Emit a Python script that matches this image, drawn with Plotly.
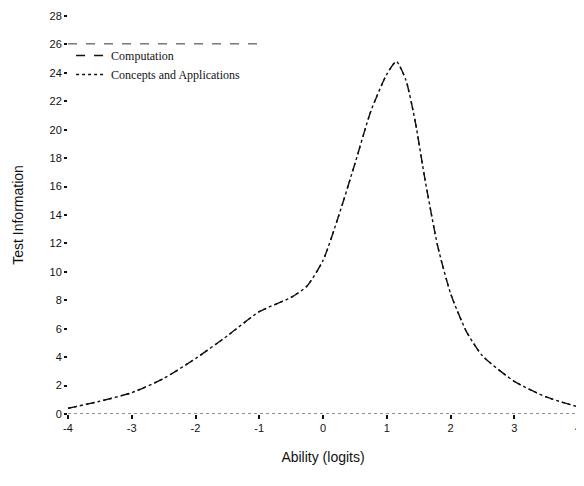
import plotly.graph_objects as go

ability = [-4, -3.5, -3, -2.5, -2, -1.5, -1, -0.5, -0.25, 0, 0.25, 0.5, 0.75, 1.0, 1.15,
           1.3, 1.45, 1.6, 1.8, 2.0, 2.25, 2.5, 3.0, 3.5, 4.0]
computation = [0.4, 0.9, 1.5, 2.5, 3.9, 5.5, 7.2, 8.2, 9.0, 10.8, 14.0, 17.6, 21.3, 23.9, 24.8,
               23.5, 20.5, 16.5, 11.8, 8.5, 5.8, 4.1, 2.3, 1.2, 0.5]
concepts_applications = [0.4, 0.9, 1.5, 2.5, 3.9, 5.5, 7.2, 8.2, 9.0, 10.8, 14.0, 17.6, 21.3, 23.9, 24.8,
                         23.5, 20.5, 16.5, 11.8, 8.5, 5.8, 4.1, 2.3, 1.2, 0.5]
y_ticks = list(range(0, 29, 2))
x_ticks = [-4, -3, -2, -1, 0, 1, 2, 3, 4]

fig = go.Figure()
fig.add_trace(go.Scatter(x=ability, y=computation, mode="lines", name="Computation",
                         line=dict(color="#111", width=1.4, dash="dash", shape="spline", smoothing=0.6)))
fig.add_trace(go.Scatter(x=ability, y=concepts_applications, mode="lines", name="Concepts and Applications",
                         line=dict(color="#111", width=1.4, dash="dot", shape="spline", smoothing=0.6)))

fig.update_layout(
    width=584, height=486,
    margin=dict(l=60, r=14, t=8, b=80, autoexpand=False),
    paper_bgcolor="white", plot_bgcolor="white",
    showlegend=True,
    legend=dict(x=0.006, y=0.937, xanchor="left", yanchor="top",
                font=dict(family="Liberation Serif", size=12, color="#111"),
                bgcolor="rgba(0,0,0,0)", itemwidth=30, tracegroupgap=0),
    font=dict(family="Liberation Sans", color="#111"),
    xaxis=dict(range=[-4, 4], tickvals=x_ticks, ticktext=[str(v) for v in x_ticks],
               showgrid=False, zeroline=False, showline=False, automargin=False,
               ticklabeloverflow="allow",
               ticks="outside", ticklen=4, tickwidth=2, tickcolor="#111",
               tickfont=dict(size=11, color="#111"),
               title=dict(text="Ability (logits)", font=dict(size=14), standoff=18)),
    yaxis=dict(range=[0, 28], tickvals=y_ticks, showgrid=False, zeroline=False, showline=False,
               automargin=False, ticklabeloverflow="allow",
               ticks="outside", ticklen=3, tickwidth=2, tickcolor="#111",
               tickfont=dict(size=11, color="#111"),
               title=dict(text="Test Information", font=dict(size=14), standoff=22)),
    shapes=[
        dict(type="line", xref="paper", yref="y", x0=0, x1=1, y0=0, y1=0,
             line=dict(color="#222", width=1.2, dash="dot")),
        dict(type="line", xref="paper", yref="paper", x0=0.0, x1=0.385, y0=0.93, y1=0.93,
             line=dict(color="#333", width=1, dash="dash")),
    ],
)

fig.write_html("out.html")
